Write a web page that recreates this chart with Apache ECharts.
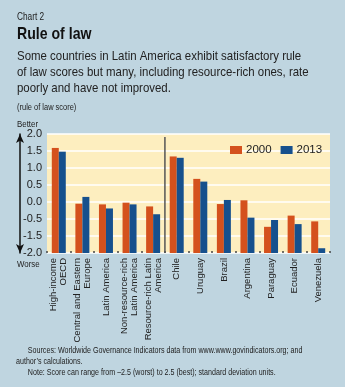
<!DOCTYPE html>
<html>
<head>
<meta charset="utf-8">
<script src="https://cdn.jsdelivr.net/npm/echarts@6/dist/echarts.min.js"></script>
<style>
  html, body { margin: 0; padding: 0; background: #bfd5e0; }
  #chart { width: 345px; height: 387px; }
</style>
</head>
<body>
<div id="chart"></div>
<script>
// Rule of law scores by group and country
const categories = [
  'High-income\nOECD', 'Central and Eastern\nEurope', 'Latin America',
  'Non-resource-rich\nLatin America', 'Resource-rich Latin\nAmerica',
  'Chile', 'Uruguay', 'Brazil', 'Argentina', 'Paraguay', 'Ecuador', 'Venezuela'
];
const values2000 = [1.59, -0.05, -0.07, -0.02, -0.13, 1.34, 0.68, -0.06, 0.05, -0.73, -0.40, -0.57];
const values2013 = [1.48, 0.15, -0.19, -0.07, -0.36, 1.30, 0.60, 0.06, -0.46, -0.53, -0.65, -1.36];
const tickLabels = ['-2.0', '-1.5', '-0.5', '0.0', '0.5', '1.0', '1.5', '2.0'];

const AXIS_MIN = -1.5;
const AXIS_MAX = 2.0;
const STEP = 0.5;

const FONT = '"Liberation Sans", Arial, sans-serif';
const ORANGE = '#d4511d';
const BLUE = '#16508d';

const chart = echarts.init(document.getElementById('chart'), null, { renderer: 'canvas' });

// Bars rise from the bottom of the plot: an invisible base segment at the axis
// minimum is stacked under each visible bar.
const baseData = categories.map(() => AXIS_MIN);
const lift = arr => arr.map(v => v - AXIS_MIN);

const barCommon = { type: 'bar', barWidth: 7, barGap: '0%', stackStrategy: 'all' };

// Text block squeezed horizontally for a condensed look
function txt(id, x, y, text, font, squeeze, extra) {
  return {
    type: 'text', id: id, x: x, y: y, scaleX: squeeze, scaleY: 1, originX: 0, originY: 0,
    style: Object.assign({ text: text, font: font, fill: '#222', verticalAlign: 'top' }, extra || {})
  };
}

chart.setOption({
  backgroundColor: '#bfd5e0',
  textStyle: { fontFamily: FONT },
  animation: false,
  graphic: [
    txt('kicker', 17, 12, 'Chart 2', '10px ' + FONT, 0.83),
    txt('title', 17, 26, 'Rule of law', 'bold 17px ' + FONT, 0.83, { fill: '#111' }),
    txt('sub', 17, 48,
      'Some countries in Latin America exhibit satisfactory rule\nof law scores but many, including resource-rich ones, rate\npoorly and have not improved.',
      '13px ' + FONT, 0.88, { lineHeight: 16 }),
    txt('unit', 17, 103, '(rule of law score)', '9px ' + FONT, 0.83),
    txt('better', 17, 119, 'Better', '9.5px ' + FONT, 0.83),
    txt('worse', 17, 259, 'Worse', '9.5px ' + FONT, 0.83),
    txt('notes', 16, 345,
      '      Sources: Worldwide Governance Indicators data from www.www.govindicators.org; and\nauthor\u2019s calculations.\n      Note: Score can range from \u20132.5 (worst) to 2.5 (best); standard deviation units.',
      '9px ' + FONT, 0.79, { lineHeight: 11 })
  ],
  legend: {
    data: ['2000', '2013'],
    left: 225,
    top: 139,
    itemWidth: 12,
    itemHeight: 8,
    itemGap: 9,
    textStyle: { fontFamily: FONT, fontSize: 11.5, color: '#222', padding: [0, 0, 0, -1] },
    icon: 'rect'
  },
  grid: { left: 47, right: 15, top: 134, bottom: 134 },
  xAxis: {
    type: 'category',
    data: categories,
    boundaryGap: true,
    axisLine: { show: false, onZero: false },
    axisTick: { show: true, inside: true, length: 2, lineStyle: { color: '#444', width: 1.5 } },
    axisLabel: {
      interval: 0, rotate: 90, fontFamily: FONT, fontSize: 9.5, color: '#222',
      lineHeight: 10, margin: 5
    },
    splitLine: { show: false }
  },
  yAxis: [
    {
      type: 'value',
      min: AXIS_MIN, max: AXIS_MAX, interval: STEP,
      axisLine: { show: false },
      axisTick: { show: false },
      axisLabel: {
        fontFamily: FONT, fontSize: 11, color: '#222', margin: 5,
        formatter: v => tickLabels[Math.round((v - AXIS_MIN) / STEP)]
      },
      splitLine: { lineStyle: { color: '#ffffff', width: 1.5 } },
      splitArea: { show: true, areaStyle: { color: ['#fdeebf'] } }
    },
    {
      // Better/worse arrow along the left side
      type: 'value',
      position: 'left',
      offset: 27,
      min: AXIS_MIN, max: AXIS_MAX,
      axisLine: { show: true, symbol: ['arrow', 'arrow'], symbolSize: [6, 9], lineStyle: { color: '#111', width: 1.5 } },
      axisTick: { show: false },
      axisLabel: { show: false },
      splitLine: { show: false }
    }
  ],
  series: [
    Object.assign({}, barCommon, { name: 'base2000', stack: 's2000', data: baseData, itemStyle: { color: 'rgba(0,0,0,0)' }, silent: true }),
    Object.assign({}, barCommon, { name: '2000', stack: 's2000', data: lift(values2000), itemStyle: { color: ORANGE } }),
    Object.assign({}, barCommon, { name: 'base2013', stack: 's2013', data: baseData, itemStyle: { color: 'rgba(0,0,0,0)' }, silent: true }),
    Object.assign({}, barCommon, { name: '2013', stack: 's2013', data: lift(values2013), itemStyle: { color: BLUE } })
  ]
});

// Divider between the regional aggregates and the individual countries
const xLeft = chart.convertToPixel({ xAxisIndex: 0 }, 4);
const xRight = chart.convertToPixel({ xAxisIndex: 0 }, 5);
const xDiv = (xLeft + xRight) / 2;
const yTop = chart.convertToPixel({ yAxisIndex: 0 }, AXIS_MAX) + 3;
const yBot = chart.convertToPixel({ yAxisIndex: 0 }, AXIS_MIN);
chart.setOption({
  graphic: [{
    type: 'line', id: 'divider', z: 5,
    shape: { x1: xDiv, y1: yTop, x2: xDiv, y2: yBot },
    style: { stroke: '#555', lineWidth: 1.5 }
  }]
});
</script>
</body>
</html>
